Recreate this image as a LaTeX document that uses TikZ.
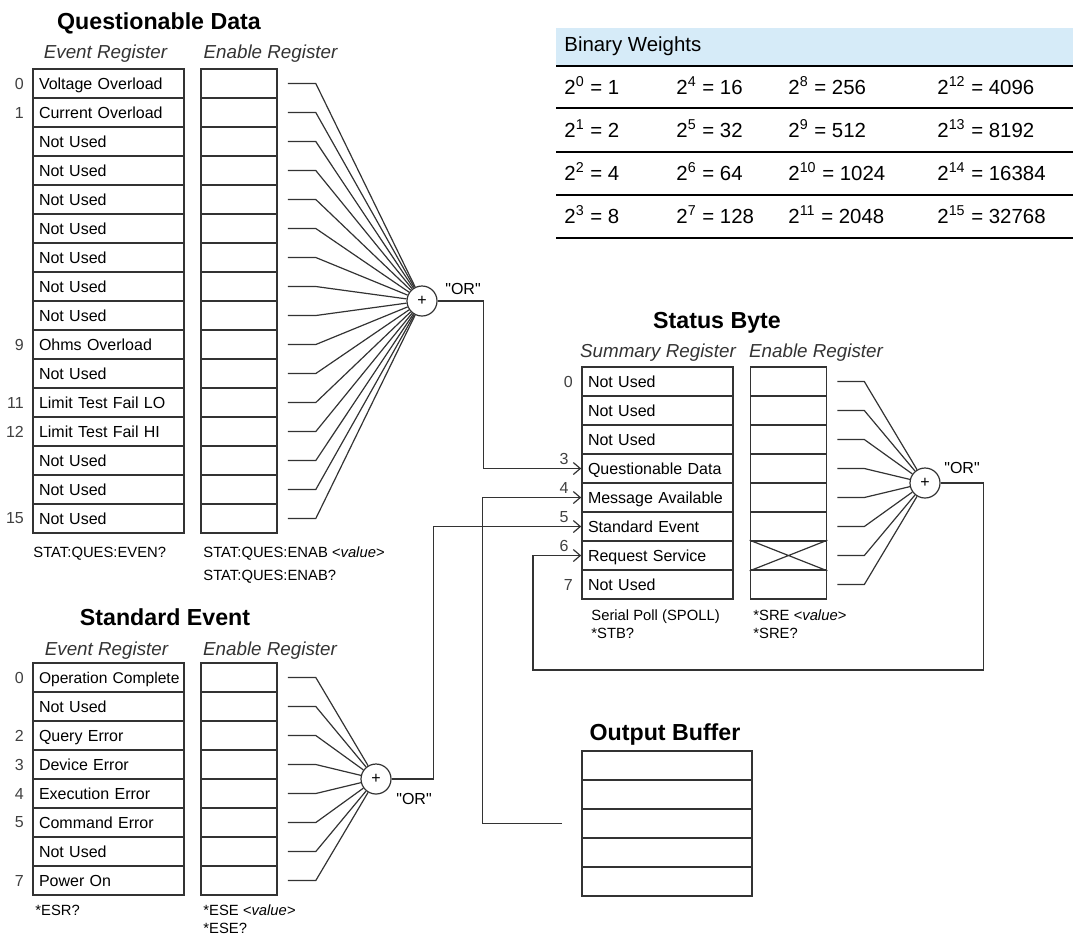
\documentclass[tikz,border=0pt]{standalone}
\usepackage{fontspec}
\setmainfont{Liberation Sans}
\usepackage{tikz}
\usetikzlibrary{positioning,arrows.meta}
\newcommand{\regfont}{\fontsize{8}{9.6}\selectfont}
\newcommand{\cmdfont}{\fontsize{7.4}{8.9}\selectfont}
\newcommand{\colheadfont}{\fontsize{9.4}{11}\selectfont\itshape}
\newcommand{\blocktitlefont}{\fontsize{11.6}{14}\selectfont\bfseries}
\newcommand{\weightfont}{\fontsize{10.2}{12}\selectfont}
\newcommand{\orword}{\textquotedbl OR\textquotedbl}
\definecolor{headblue}{RGB}{214,235,248}
\tikzstyle{evcell} = [draw=black!80, line width=0.8pt, rectangle, minimum height=14.5pt,
text width=69.5pt, text height=7pt, text depth=1.3pt, inner xsep=3pt, inner ysep=0pt,
align=left, font=\regfont]
\tikzstyle{encell} = [draw=black!80, line width=0.8pt, rectangle, minimum height=14.5pt,
minimum width=38pt, inner sep=0pt]
\tikzstyle{bufcell} = [encell, minimum width=85pt]
\tikzstyle{orgate} = [draw=black!80, line width=0.6pt, circle, minimum size=15pt, inner sep=0pt, font=\regfont]
\tikzstyle{wire} = [draw=black!80, line width=0.6pt]
\tikzstyle{bitnum} = [font=\regfont, text=black!75, inner sep=0pt]
\tikzstyle{orlabel} = [font=\regfont, inner sep=0pt]
\tikzstyle{cmdtext} = [font=\cmdfont, inner sep=0pt, anchor=base west]
\tikzstyle{colhead} = [font=\colheadfont, text=black!80, inner sep=0pt, anchor=base]
\tikzstyle{blocktitle} = [font=\blocktitlefont, inner sep=0pt, anchor=base]
\tikzstyle{weight} = [font=\weightfont, inner sep=0pt, anchor=base west]

\begin{document}
\begin{tikzpicture}[x=0.5pt, y=-0.5pt, node distance=14.5pt,
  >={Straight Barb[length=3.5pt,width=6pt]}]
\useasboundingbox (0,0) rectangle (1079,939);

% Questionable Data
\node[blocktitle] (qtitle) at (159,29) {Questionable Data};
\node[colhead] (qevhead) at (105.5,58.7) {Event Register};
\node[colhead] (qenhead) at (270.5,58.7) {Enable Register};

\node[evcell] (qe0) at (108.5,83.5) {Voltage Overload};
\node[evcell, below of=qe0] (qe1) {Current Overload};
\node[evcell, below of=qe1] (qe2) {Not Used};
\node[evcell, below of=qe2] (qe3) {Not Used};
\node[evcell, below of=qe3] (qe4) {Not Used};
\node[evcell, below of=qe4] (qe5) {Not Used};
\node[evcell, below of=qe5] (qe6) {Not Used};
\node[evcell, below of=qe6] (qe7) {Not Used};
\node[evcell, below of=qe7] (qe8) {Not Used};
\node[evcell, below of=qe8] (qe9) {Ohms Overload};
\node[evcell, below of=qe9] (qe10) {Not Used};
\node[evcell, below of=qe10] (qe11) {Limit Test Fail LO};
\node[evcell, below of=qe11] (qe12) {Limit Test Fail HI};
\node[evcell, below of=qe12] (qe13) {Not Used};
\node[evcell, below of=qe13] (qe14) {Not Used};
\node[evcell, below of=qe14] (qe15) {Not Used};

\node[encell, right of=qe0, node distance=65.25pt] (qn0) {};
\foreach \i [remember=\i as \j (initially 0)] in {1,...,15}
  \node[encell, below of=qn\j] (qn\i) {};

\node[bitnum, left=4pt of qe0.west] (qb0) {0};
\node[bitnum, left=4pt of qe1.west] (qb1) {1};
\node[bitnum, left=4pt of qe9.west] (qb9) {9};
\node[bitnum, left=4pt of qe11.west] (qb11) {11};
\node[bitnum, left=4pt of qe12.west] (qb12) {12};
\node[bitnum, left=4pt of qe15.west] (qb15) {15};

\node[cmdtext] (qevcmd) at (33,557) {STAT:QUES:EVEN?};
\node[cmdtext] (qencmd) at (203,557) {STAT:QUES:ENAB \textit{<value>}};
\node[cmdtext] (qenquery) at (203,580) {STAT:QUES:ENAB?};

\node[orgate] (qgate) at (422,301) {+};
\node[orlabel] (qor) at (463,289) {\orword};
\foreach \i in {0,...,15}
  \draw[wire] ([xshift=5pt]qn\i.east) -- ++(14pt,0) -- (qgate);

% Standard Event
\node[blocktitle] (stitle) at (165,625) {Standard Event};
\node[colhead] (sevhead) at (106.5,655) {Event Register};
\node[colhead] (senhead) at (270,655) {Enable Register};

\node[evcell, font=\fontsize{7.8}{9.4}\selectfont] (se0) at (108.5,677.5) {\mbox{Operation Complete}};
\node[evcell, below of=se0] (se1) {Not Used};
\node[evcell, below of=se1] (se2) {Query Error};
\node[evcell, below of=se2] (se3) {Device Error};
\node[evcell, below of=se3] (se4) {Execution Error};
\node[evcell, below of=se4] (se5) {Command Error};
\node[evcell, below of=se5] (se6) {Not Used};
\node[evcell, below of=se6] (se7) {Power On};

\node[encell, right of=se0, node distance=65.25pt] (sn0) {};
\foreach \i [remember=\i as \j (initially 0)] in {1,...,7}
  \node[encell, below of=sn\j] (sn\i) {};

\node[bitnum, left=4pt of se0.west] (sb0) {0};
\node[bitnum, left=4pt of se2.west] (sb2) {2};
\node[bitnum, left=4pt of se3.west] (sb3) {3};
\node[bitnum, left=4pt of se4.west] (sb4) {4};
\node[bitnum, left=4pt of se5.west] (sb5) {5};
\node[bitnum, left=4pt of se7.west] (sb7) {7};

\node[cmdtext] (sevcmd) at (35,915) {*ESR?};
\node[cmdtext] (sencmd) at (203,915) {*ESE \textit{<value>}};
\node[cmdtext] (senquery) at (203,933) {*ESE?};

\node[orgate] (sgate) at (376,779) {+};
\node[orlabel] (sor) at (414,799) {\orword};
\foreach \i in {0,...,7}
  \draw[wire] ([xshift=5pt]sn\i.east) -- ++(14pt,0) -- (sgate);

% Status Byte
\node[blocktitle] (btitle) at (717,328) {Status Byte};
\node[colhead] (bsumhead) at (658,357) {Summary Register};
\node[colhead] (benhead) at (816,357) {Enable Register};

\node[evcell] (bs0) at (657.5,381.5) {Not Used};
\node[evcell, below of=bs0] (bs1) {Not Used};
\node[evcell, below of=bs1] (bs2) {Not Used};
\node[evcell, below of=bs2] (bs3) {Questionable Data};
\node[evcell, below of=bs3] (bs4) {Message Available};
\node[evcell, below of=bs4] (bs5) {Standard Event};
\node[evcell, below of=bs5] (bs6) {Request Service};
\node[evcell, below of=bs6] (bs7) {Not Used};

\node[encell, right of=bs0, node distance=65.5pt] (bn0) {};
\foreach \i [remember=\i as \j (initially 0)] in {1,...,7}
  \node[encell, below of=bn\j] (bn\i) {};
\draw[wire] (bn6.north west) -- (bn6.south east) (bn6.south west) -- (bn6.north east);

\node[bitnum, left=4pt of bs0.west] (bb0) {0};
\node[bitnum, left=4pt of bs7.west] (bb7) {7};
\node[bitnum] (bb3) at (564,459) {3};
\node[bitnum] (bb4) at (564,488) {4};
\node[bitnum] (bb5) at (564,517) {5};
\node[bitnum] (bb6) at (564,546) {6};

\node[cmdtext] (bsumcmd) at (591,620) {Serial Poll (SPOLL)};
\node[cmdtext] (bsumquery) at (591,638) {*STB?};
\node[cmdtext] (bencmd) at (753,620) {*SRE \textit{<value>}};
\node[cmdtext] (benquery) at (753,638) {*SRE?};

\node[orgate] (bgate) at (925,483) {+};
\node[orlabel] (bor) at (962,468) {\orword};
\foreach \i in {0,...,7}
  \draw[wire] ([xshift=5pt]bn\i.east) -- ++(13.5pt,0) -- (bgate);

% Output Buffer
\node[blocktitle] (otitle) at (665,740) {Output Buffer};
\node[bufcell] (ob0) at (667,765.5) {};
\foreach \i [remember=\i as \j (initially 0)] in {1,...,4}
  \node[bufcell, below of=ob\j] (ob\i) {};

% summary connections
\coordinate (bloop) at (533,670);
\draw[wire, ->] (qgate.east) -- ++(23pt,0) |- (bs3.west);
\draw[wire, ->] (sgate.east) -- ++(21pt,0) |- (bs5.west);
\draw[wire, ->] ([xshift=-9.5pt]ob2.west) -- ++(-40pt,0) |- (bs4.west);
\draw[wire, ->] (bgate.east) -- ++(21.5pt,0) |- (bloop) |- (bs6.west);

% Binary Weights
\fill[headblue] (556,28) rectangle (1073,66);
\node[weight] (whead) at (564,51) {Binary Weights};
\foreach \y in {66,108,152,195,238}
  \draw[line width=0.75pt] (556,\y) -- (1073,\y);
\foreach \n/\v/\x/\y in {0/1/564/94, 1/2/564/137, 2/4/564/180, 3/8/564/223,
  4/16/676/94, 5/32/676/137, 6/64/676/180, 7/128/676/223,
  8/256/788/94, 9/512/788/137, 10/1024/788/180, 11/2048/788/223,
  12/4096/937/94, 13/8192/937/137, 14/16384/937/180, 15/32768/937/223}
  \node[weight] (w\n) at (\x,\y) {2\textsuperscript{\n} = \v};
\end{tikzpicture}
\end{document}
